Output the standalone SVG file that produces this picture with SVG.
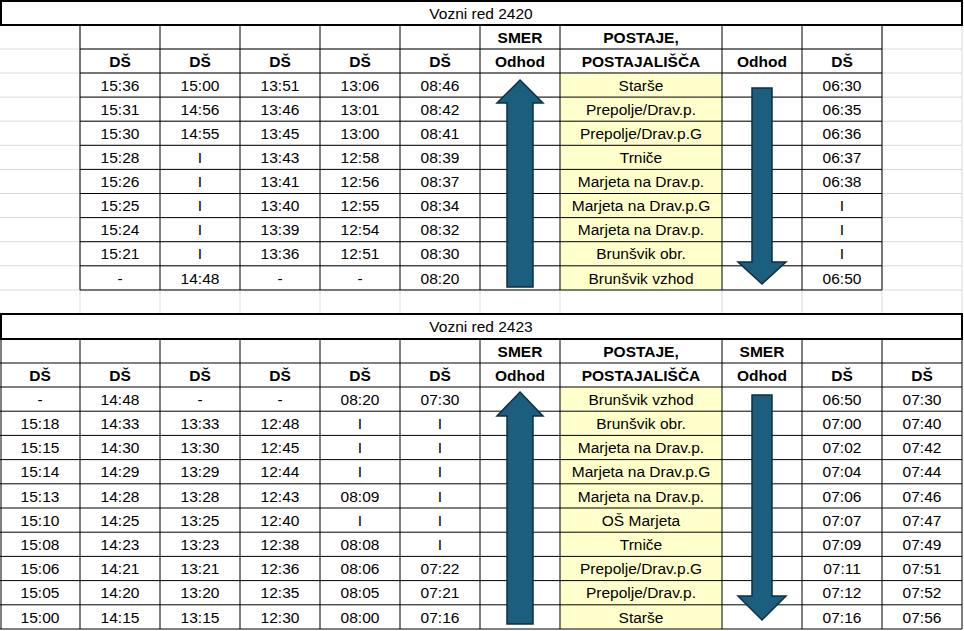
<svg xmlns="http://www.w3.org/2000/svg" width="964" height="631" viewBox="0 0 964 631">
<style>
text{font-family:"Liberation Sans",Arial,sans-serif;font-size:15.5px;text-anchor:middle;fill:#000}
.b{font-weight:bold;font-size:15px}
.g{stroke:#d9d9d9;stroke-width:1}
.k{stroke:#000;stroke-width:1}
.arr{fill:#1b5e7e;stroke:#0e2f40;stroke-width:1.5}
</style>
<rect width="964" height="631" fill="#fff"/>
<g id="gray-grid">
<path class="g" d="M0,49H962M0,73H962M0,97.1H962M0,121.2H962M0,145.3H962M0,169.4H962M0,193.5H962M0,217.6H962M0,241.7H962M0,265.8H962M0,290H962M0,314H962M80,25V314M160,290V314M240,290V314M320,290V314M400,290V314M480,290V314M560,290V314M722,290V314M802,290V314M882,25V314M962,25V314"/>
</g>
<g id="table1">
<rect x="560" y="73" width="162" height="217" fill="#ffffcc"/>
<path class="k" d="M80,49H882M80,73H882M80,97.1H882M80,121.2H882M80,145.3H882M80,169.4H882M80,193.5H882M80,217.6H882M80,241.7H882M80,265.8H882M80,290H882M80,25V290M160,25V290M240,25V290M320,25V290M400,25V290M480,25V290M560,25V290M722,25V290M802,25V290M882,25V290"/>
<rect x="1" y="1" width="961" height="24" fill="none" stroke="#000" stroke-width="2"/>
<text x="481" y="19">Vozni red 2420</text>
<g class="b"><text x="520" y="43">SMER</text><text x="641" y="43">POSTAJE,</text>
<text x="120" y="67">DŠ</text><text x="200" y="67">DŠ</text><text x="280" y="67">DŠ</text><text x="360" y="67">DŠ</text><text x="440" y="67">DŠ</text><text x="520" y="67">Odhod</text><text x="641" y="67">POSTAJALIŠČA</text><text x="762" y="67">Odhod</text><text x="842" y="67">DŠ</text></g>
<g>
<text x="120" y="91">15:36</text><text x="200" y="91">15:00</text><text x="280" y="91">13:51</text><text x="360" y="91">13:06</text><text x="440" y="91">08:46</text><text x="641" y="91">Starše</text><text x="842" y="91">06:30</text>
<text x="120" y="115">15:31</text><text x="200" y="115">14:56</text><text x="280" y="115">13:46</text><text x="360" y="115">13:01</text><text x="440" y="115">08:42</text><text x="641" y="115">Prepolje/Drav.p.</text><text x="842" y="115">06:35</text>
<text x="120" y="139">15:30</text><text x="200" y="139">14:55</text><text x="280" y="139">13:45</text><text x="360" y="139">13:00</text><text x="440" y="139">08:41</text><text x="641" y="139">Prepolje/Drav.p.G</text><text x="842" y="139">06:36</text>
<text x="120" y="163">15:28</text><text x="200" y="163">I</text><text x="280" y="163">13:43</text><text x="360" y="163">12:58</text><text x="440" y="163">08:39</text><text x="641" y="163">Trniče</text><text x="842" y="163">06:37</text>
<text x="120" y="187">15:26</text><text x="200" y="187">I</text><text x="280" y="187">13:41</text><text x="360" y="187">12:56</text><text x="440" y="187">08:37</text><text x="641" y="187">Marjeta na Drav.p.</text><text x="842" y="187">06:38</text>
<text x="120" y="211">15:25</text><text x="200" y="211">I</text><text x="280" y="211">13:40</text><text x="360" y="211">12:55</text><text x="440" y="211">08:34</text><text x="641" y="211">Marjeta na Drav.p.G</text><text x="842" y="211">I</text>
<text x="120" y="235">15:24</text><text x="200" y="235">I</text><text x="280" y="235">13:39</text><text x="360" y="235">12:54</text><text x="440" y="235">08:32</text><text x="641" y="235">Marjeta na Drav.p.</text><text x="842" y="235">I</text>
<text x="120" y="259">15:21</text><text x="200" y="259">I</text><text x="280" y="259">13:36</text><text x="360" y="259">12:51</text><text x="440" y="259">08:30</text><text x="641" y="259">Brunšvik obr.</text><text x="842" y="259">I</text>
<text x="120" y="284">-</text><text x="200" y="284">14:48</text><text x="280" y="284">-</text><text x="360" y="284">-</text><text x="440" y="284">08:20</text><text x="641" y="284">Brunšvik vzhod</text><text x="842" y="284">06:50</text>
</g>
<path class="arr" d="M520,80L543,103H533V287H507V103H497Z"/>
<path class="arr" d="M752,88H772V262H786L762,284L738,262H752Z"/>
</g>
<g id="table2">
<rect x="560" y="387" width="162" height="242" fill="#ffffcc"/>
<path class="k" d="M0,363H962M0,387H962M0,411.2H962M0,435.4H962M0,459.6H962M0,483.8H962M0,508H962M0,532.2H962M0,556.4H962M0,580.6H962M0,604.8H962M0,629H962M1,339V629M80,339V629M160,339V629M240,339V629M320,339V629M400,339V629M480,339V629M560,339V629M722,339V629M802,339V629M882,339V629M962,339V629"/>
<rect x="1" y="314" width="961" height="25" fill="none" stroke="#000" stroke-width="2"/>
<text x="481" y="332">Vozni red 2423</text>
<g class="b"><text x="520" y="357">SMER</text><text x="641" y="357">POSTAJE,</text><text x="762" y="357">SMER</text>
<text x="40" y="381">DŠ</text><text x="120" y="381">DŠ</text><text x="200" y="381">DŠ</text><text x="280" y="381">DŠ</text><text x="360" y="381">DŠ</text><text x="440" y="381">DŠ</text><text x="520" y="381">Odhod</text><text x="641" y="381">POSTAJALIŠČA</text><text x="762" y="381">Odhod</text><text x="842" y="381">DŠ</text><text x="922" y="381">DŠ</text></g>
<g>
<text x="40" y="405">-</text><text x="120" y="405">14:48</text><text x="200" y="405">-</text><text x="280" y="405">-</text><text x="360" y="405">08:20</text><text x="440" y="405">07:30</text><text x="641" y="405">Brunšvik vzhod</text><text x="842" y="405">06:50</text><text x="922" y="405">07:30</text>
<text x="40" y="429">15:18</text><text x="120" y="429">14:33</text><text x="200" y="429">13:33</text><text x="280" y="429">12:48</text><text x="360" y="429">I</text><text x="440" y="429">I</text><text x="641" y="429">Brunšvik obr.</text><text x="842" y="429">07:00</text><text x="922" y="429">07:40</text>
<text x="40" y="453">15:15</text><text x="120" y="453">14:30</text><text x="200" y="453">13:30</text><text x="280" y="453">12:45</text><text x="360" y="453">I</text><text x="440" y="453">I</text><text x="641" y="453">Marjeta na Drav.p.</text><text x="842" y="453">07:02</text><text x="922" y="453">07:42</text>
<text x="40" y="477">15:14</text><text x="120" y="477">14:29</text><text x="200" y="477">13:29</text><text x="280" y="477">12:44</text><text x="360" y="477">I</text><text x="440" y="477">I</text><text x="641" y="477">Marjeta na Drav.p.G</text><text x="842" y="477">07:04</text><text x="922" y="477">07:44</text>
<text x="40" y="502">15:13</text><text x="120" y="502">14:28</text><text x="200" y="502">13:28</text><text x="280" y="502">12:43</text><text x="360" y="502">08:09</text><text x="440" y="502">I</text><text x="641" y="502">Marjeta na Drav.p.</text><text x="842" y="502">07:06</text><text x="922" y="502">07:46</text>
<text x="40" y="526">15:10</text><text x="120" y="526">14:25</text><text x="200" y="526">13:25</text><text x="280" y="526">12:40</text><text x="360" y="526">I</text><text x="440" y="526">I</text><text x="641" y="526">OŠ Marjeta</text><text x="842" y="526">07:07</text><text x="922" y="526">07:47</text>
<text x="40" y="550">15:08</text><text x="120" y="550">14:23</text><text x="200" y="550">13:23</text><text x="280" y="550">12:38</text><text x="360" y="550">08:08</text><text x="440" y="550">I</text><text x="641" y="550">Trniče</text><text x="842" y="550">07:09</text><text x="922" y="550">07:49</text>
<text x="40" y="574">15:06</text><text x="120" y="574">14:21</text><text x="200" y="574">13:21</text><text x="280" y="574">12:36</text><text x="360" y="574">08:06</text><text x="440" y="574">07:22</text><text x="641" y="574">Prepolje/Drav.p.G</text><text x="842" y="574">07:11</text><text x="922" y="574">07:51</text>
<text x="40" y="598">15:05</text><text x="120" y="598">14:20</text><text x="200" y="598">13:20</text><text x="280" y="598">12:35</text><text x="360" y="598">08:05</text><text x="440" y="598">07:21</text><text x="641" y="598">Prepolje/Drav.p.</text><text x="842" y="598">07:12</text><text x="922" y="598">07:52</text>
<text x="40" y="623">15:00</text><text x="120" y="623">14:15</text><text x="200" y="623">13:15</text><text x="280" y="623">12:30</text><text x="360" y="623">08:00</text><text x="440" y="623">07:16</text><text x="641" y="623">Starše</text><text x="842" y="623">07:16</text><text x="922" y="623">07:56</text>
</g>
<path class="arr" d="M520,392L543,416H533V624H507V416H497Z"/>
<path class="arr" d="M752,395H772V596H786L762,620L738,596H752Z"/>
</g>
</svg>
